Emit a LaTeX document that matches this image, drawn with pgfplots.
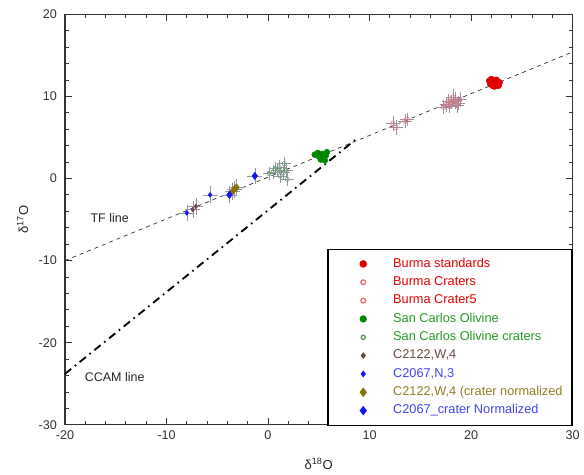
\documentclass[border=0pt]{standalone}
\usepackage{fontspec}
\setmainfont{Liberation Sans}
\usepackage{pgfplots}
\pgfplotsset{compat=1.18}

\definecolor{brred}{RGB}{225,0,0}
\definecolor{brcrater}{RGB}{235,110,110}
\definecolor{scgreen}{RGB}{0,135,0}
\definecolor{sccrater}{RGB}{95,155,95}
\definecolor{cbrown}{RGB}{105,75,65}
\definecolor{cblue}{RGB}{20,20,245}
\definecolor{colive}{RGB}{135,112,10}
\definecolor{ebar}{RGB}{150,150,165}

\begin{document}
\begin{tikzpicture}
\begin{axis}[
    scale only axis,
    width=382pt, height=309pt,
    xmin=-20, xmax=30, ymin=-30, ymax=20,
    xtick={-20,-10,...,30}, ytick={-30,-20,...,20},
    minor x tick num=4, minor y tick num=4,
    tick align=inside,
    major tick length=5pt, minor tick length=3pt,
    axis line style={line width=0.8pt, black!80},
    tick style={black!80, line width=0.6pt},
    clip mode=individual,
    /pgf/number format/assume math mode=true,
    tick label style={font=\fontsize{9.5}{11}\selectfont, text=black!80},
    yticklabel style={xshift=-2.5pt},
    xticklabel style={yshift=-1pt},
    label style={font=\fontsize{9.8}{11}\selectfont, text=black!85},
    xlabel={δ\textsuperscript{18}O},
    ylabel={δ\textsuperscript{17}O},
    xlabel style={yshift=-7pt},
    ylabel style={yshift=1pt},
    error bars/error bar style={ebar, line width=0.4pt},
    error bars/error mark options={ebar, mark size=2.6pt, line width=0.4pt},
    legend image code/.code={\path (0pt,0pt) (31pt,0pt);
        \draw[mark repeat=2, mark phase=2, #1]
        plot coordinates {(11pt,0pt) (21pt,0pt) (31pt,0pt)};},
    legend cell align=left,
    legend style={at={(1,-0.003)}, anchor=south east, draw=black, line width=1pt,
        fill=white, inner xsep=5pt, inner ysep=5pt, row sep=1.6pt,
        font=\fontsize{9.6}{11}\selectfont,
        nodes={inner xsep=2pt, inner ysep=1.5pt, text height=7pt, text depth=2.2pt},
        /tikz/every odd column/.append style={column sep=10pt}},
]

% TF line and CCAM line
\addplot[forget plot, black!85, line width=0.5pt, dash pattern=on 3pt off 3pt]
    coordinates {(-20,-10.0) (30,15.4)};
\addplot[forget plot, black, line width=1.4pt, dash pattern=on 6pt off 3.5pt on 1.2pt off 3.5pt]
    coordinates {(-20,-23.8) (8.7,4.8)};
\node[font=\fontsize{9.4}{11}\selectfont, text=black!85] at (axis cs:-15.6,-4.8) {TF line};
\node[font=\fontsize{9.4}{11}\selectfont, text=black!85] at (axis cs:-15.1,-24.2) {CCAM line};
% white margins around the axis, as in the reference
\node[anchor=south, inner sep=0pt, minimum height=10.5pt, minimum width=1pt] at (rel axis cs:0.5,1) {};
\node[anchor=north, inner sep=0pt, minimum height=37.5pt, minimum width=1pt] at (rel axis cs:0.5,0) {};
\node[anchor=east, inner sep=0pt, minimum width=48.7pt, minimum height=1pt] at (rel axis cs:0,0.5) {};
\node[anchor=west, inner sep=0pt, minimum width=7.5pt, minimum height=1pt] at (rel axis cs:1,0.5) {};

% Burma standards
\addplot[only marks, mark=*, mark size=2.3pt, color=brred] coordinates {
    (21.8,11.9) (22.0,12.1) (22.2,11.6) (22.4,11.9) (22.6,11.5) (22.1,11.3)
    (22.8,11.7) (21.9,11.5) (22.5,12.0) (22.3,11.2) (22.7,11.3) (22.0,11.8)
};
\addlegendentry{\textcolor{red!90!black}{Burma standards}}

% Burma Craters
\addplot[only marks, mark=o, mark size=1.8pt, color=brcrater, mark options={fill=brred!75}, error bars/.cd, x dir=both, y dir=both, x explicit, y explicit] coordinates {
    (17.3,8.7) +- (0.35,0.45)
    (17.6,9.0) +- (0.35,0.45)
    (17.9,8.8) +- (0.35,0.45)
    (18.1,9.3) +- (0.35,0.45)
    (18.4,9.5) +- (0.35,0.6)
    (18.7,9.2) +- (0.35,0.45)
    (18.2,9.9) +- (0.35,0.6)
    (18.9,9.6) +- (0.35,0.45)
    (17.8,9.4) +- (0.35,0.45)
    (12.3,6.7) +- (0.35,0.45)
    (12.6,6.2) +- (0.35,0.45)
    (13.5,7.0) +- (0.35,0.4)
    (13.7,7.2) +- (0.35,0.4)
};
\addlegendentry{\textcolor{red!90!black}{Burma Craters}}

% Burma Crater5
\addplot[only marks, mark=o, mark size=1.8pt, color=brcrater, error bars/.cd, x dir=both, y dir=both, x explicit, y explicit] coordinates {
    (18.6,8.9) +- (0.35,0.45)
};
\addlegendentry{\textcolor{red!90!black}{Burma Crater5}}

% San Carlos Olivine
\addplot[only marks, mark=*, mark size=2.2pt, color=scgreen] coordinates {
    (4.6,2.9) (5.0,2.7) (5.3,3.0) (5.5,2.5) (5.7,2.8) (5.2,2.3)
    (5.6,2.2) (4.9,3.1) (5.8,3.2)
};
\addlegendentry{\textcolor{scgreen!85!white}{San Carlos Olivine}}

% San Carlos Olivine craters
\addplot[only marks, mark=o, mark size=1.6pt, color=sccrater, error bars/.cd, x dir=both, y dir=both, x explicit, y explicit] coordinates {
    (0.1,0.6) +- (0.3,0.4)
    (0.5,0.8) +- (0.3,0.4)
    (0.9,1.0) +- (0.3,0.4)
    (1.1,1.4) +- (0.3,0.4)
    (1.6,1.8) +- (0.3,0.4)
    (1.8,1.0) +- (0.3,0.4)
    (1.2,0.3) +- (0.3,0.4)
    (1.9,-0.1) +- (0.3,0.4)
    (0.7,1.2) +- (0.3,0.4)
    (1.5,0.7) +- (0.3,0.4)
};
\addlegendentry{\textcolor{scgreen!85!white}{San Carlos Olivine craters}}

% C2122,W,4
\addplot[only marks, mark=diamond*, mark size=1.8pt, color=cbrown, error bars/.cd, x dir=both, y dir=both, x explicit, y explicit] coordinates {
    (-7.4,-3.8) +- (0.4,0.6)
    (-7.1,-3.4) +- (0.4,0.6)
};
\addlegendentry{\textcolor{cbrown}{C2122,W,4}}

% C2067,N,3
\addplot[only marks, mark=diamond*, mark size=1.8pt, color=cblue, error bars/.cd, x dir=both, y dir=both, x explicit, y explicit] coordinates {
    (-8.0,-4.2) +- (0.4,0.6)
    (-5.7,-2.0) +- (0.4,0.6)
};
\addlegendentry{\textcolor{cblue!80!white}{C2067,N,3}}

% C2122,W,4 (crater normalized)
\addplot[only marks, mark=diamond*, mark size=2.8pt, color=colive, error bars/.cd, x dir=both, y dir=both, x explicit, y explicit] coordinates {
    (-3.1,-1.1) +- (0.4,0.6)
    (-3.5,-1.6) +- (0.4,0.6)
    (-3.3,-1.3) +- (0.4,0.6)
};
\addlegendentry{\textcolor{colive!90!white}{C2122,W,4 (crater normalized}}

% C2067_crater Normalized
\addplot[only marks, mark=diamond*, mark size=2.8pt, color=cblue, error bars/.cd, x dir=both, y dir=both, x explicit, y explicit] coordinates {
    (-3.8,-2.0) +- (0.4,0.6)
    (-1.3,0.3) +- (0.4,0.6)
};
\addlegendentry{\textcolor{cblue!80!white}{C2067\_crater Normalized}}

\end{axis}
\end{tikzpicture}
\end{document}
